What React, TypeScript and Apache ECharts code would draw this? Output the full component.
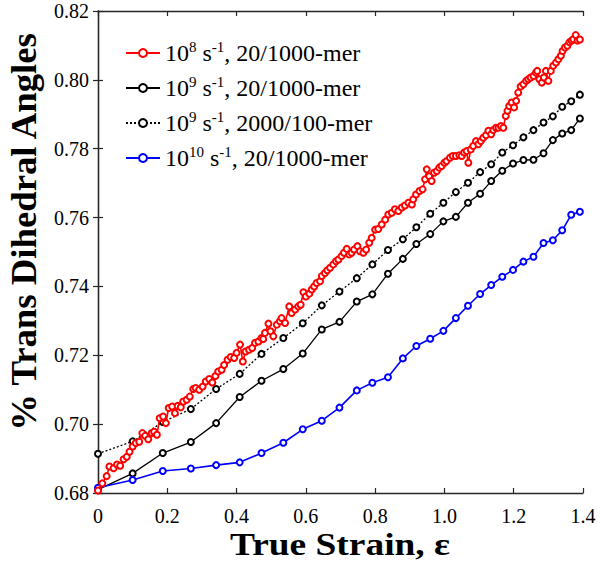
import React, { useEffect, useRef } from "react";
import * as echarts from "echarts";

const coarseStrain = [0, 0.1, 0.187, 0.268, 0.341, 0.409, 0.472, 0.535, 0.591, 0.646, 0.697, 0.747, 0.792, 0.837, 0.88, 0.919, 0.959, 0.997, 1.033, 1.068, 1.103, 1.135, 1.167, 1.198, 1.228, 1.257, 1.286, 1.313, 1.34, 1.366, 1.391];

// 10^9 s^-1, 20/1000-mer (solid black)
const rate9Chain20 = [0.681, 0.6857, 0.6916, 0.6948, 0.7003, 0.7079, 0.7126, 0.716, 0.7205, 0.7275, 0.7297, 0.7356, 0.7377, 0.7437, 0.748, 0.7523, 0.7552, 0.7589, 0.7602, 0.7643, 0.7669, 0.7706, 0.7736, 0.7757, 0.7767, 0.7768, 0.7787, 0.7825, 0.7844, 0.7854, 0.7888];

// 10^9 s^-1, 2000/100-mer (dotted black)
const rate9Chain2000 = [0.6914, 0.695, 0.7006, 0.7044, 0.7102, 0.7146, 0.7204, 0.725, 0.7293, 0.7345, 0.7385, 0.7424, 0.7464, 0.7506, 0.7537, 0.7572, 0.7611, 0.7643, 0.7674, 0.7701, 0.7732, 0.7755, 0.7789, 0.781, 0.7833, 0.7854, 0.7876, 0.7894, 0.7922, 0.7938, 0.7957];

// 10^10 s^-1, 20/1000-mer (blue)
const rate10Chain20 = [0.6815, 0.6838, 0.6864, 0.6871, 0.6881, 0.6889, 0.6916, 0.6946, 0.6985, 0.701, 0.7048, 0.7098, 0.712, 0.7136, 0.7191, 0.7227, 0.7248, 0.7271, 0.7308, 0.7344, 0.7378, 0.7404, 0.7428, 0.7448, 0.7472, 0.7486, 0.7526, 0.7534, 0.7563, 0.7608, 0.7617];

// 10^8 s^-1, 20/1000-mer (red) [strain, fraction]
const rate8Points = [
  [0, 0.6807], [0.0125, 0.6828], [0.025, 0.6849], [0.033, 0.6877], [0.045, 0.6872], [0.055, 0.6883], [0.064, 0.6879], [0.074, 0.6898], [0.083, 0.6905], [0.091, 0.692],
  [0.1, 0.6935], [0.109, 0.6945], [0.119, 0.6949], [0.128, 0.6974], [0.136, 0.6966], [0.145, 0.6956], [0.155, 0.6974], [0.162, 0.6978], [0.17, 0.6969], [0.178, 0.7017],
  [0.188, 0.7022], [0.196, 0.7003], [0.204, 0.7047], [0.214, 0.7051], [0.222, 0.7032], [0.23, 0.7053], [0.239, 0.7049], [0.246, 0.7066], [0.256, 0.7071], [0.265, 0.708],
  [0.275, 0.7102], [0.282, 0.7105], [0.292, 0.71], [0.302, 0.7109], [0.311, 0.7124], [0.321, 0.7131], [0.33, 0.7121], [0.339, 0.714], [0.347, 0.7153], [0.357, 0.7158],
  [0.364, 0.7172], [0.374, 0.7187], [0.383, 0.7195], [0.393, 0.7192], [0.4, 0.7207], [0.41, 0.7231], [0.418, 0.7182], [0.426, 0.7211], [0.436, 0.7216], [0.445, 0.7221],
  [0.453, 0.7236], [0.463, 0.724], [0.472, 0.725], [0.477, 0.7247], [0.482, 0.7265], [0.492, 0.7292], [0.498, 0.727], [0.506, 0.7255], [0.516, 0.7289], [0.525, 0.7299],
  [0.53, 0.7308], [0.54, 0.7294], [0.552, 0.7342], [0.559, 0.7323], [0.569, 0.7333], [0.578, 0.7342], [0.585, 0.7347], [0.593, 0.7383], [0.6, 0.7371], [0.61, 0.7379],
  [0.617, 0.7391], [0.624, 0.74], [0.631, 0.741], [0.641, 0.7415], [0.646, 0.743], [0.655, 0.7439], [0.662, 0.7447], [0.67, 0.7454], [0.679, 0.7464], [0.687, 0.7473],
  [0.694, 0.7478], [0.703, 0.7488], [0.71, 0.7498], [0.718, 0.7509], [0.725, 0.7493], [0.732, 0.7498], [0.739, 0.7507], [0.749, 0.7517], [0.756, 0.7502], [0.766, 0.7498],
  [0.774, 0.7507], [0.783, 0.7527], [0.79, 0.7541], [0.8, 0.7565], [0.809, 0.7567], [0.819, 0.758], [0.829, 0.7594], [0.838, 0.7609], [0.848, 0.7614], [0.857, 0.7624],
  [0.867, 0.7619], [0.877, 0.7629], [0.886, 0.7635], [0.896, 0.7643], [0.906, 0.7638], [0.91, 0.7653], [0.918, 0.7667], [0.928, 0.7677], [0.937, 0.7682], [0.944, 0.7711],
  [0.949, 0.774], [0.956, 0.772], [0.963, 0.7706], [0.97, 0.773], [0.978, 0.7735], [0.985, 0.7745], [0.992, 0.775], [1.0, 0.7759], [1.006, 0.7764], [1.016, 0.7774],
  [1.024, 0.7779], [1.033, 0.7779], [1.043, 0.7781], [1.05, 0.7779], [1.057, 0.7789], [1.064, 0.7793], [1.069, 0.7759], [1.076, 0.7798], [1.083, 0.7808], [1.091, 0.7822],
  [1.098, 0.7813], [1.105, 0.7822], [1.112, 0.7832], [1.12, 0.7839], [1.127, 0.7852], [1.135, 0.7842], [1.141, 0.7854], [1.149, 0.7861], [1.156, 0.7861], [1.163, 0.7866],
  [1.17, 0.7861], [1.177, 0.7895], [1.182, 0.791], [1.187, 0.7924], [1.194, 0.7934], [1.201, 0.792], [1.207, 0.7939], [1.213, 0.7963], [1.22, 0.7981], [1.228, 0.7987],
  [1.236, 0.7997], [1.242, 0.8002], [1.249, 0.8007], [1.257, 0.8011], [1.264, 0.8021], [1.268, 0.8026], [1.274, 0.8002], [1.281, 0.7992], [1.287, 0.8007], [1.293, 0.8026],
  [1.3, 0.7997], [1.307, 0.8026], [1.314, 0.8041], [1.322, 0.805], [1.329, 0.806], [1.336, 0.807], [1.341, 0.8084], [1.348, 0.8094], [1.355, 0.8099], [1.361, 0.8109],
  [1.367, 0.8114], [1.372, 0.8118], [1.379, 0.813], [1.384, 0.8114], [1.391, 0.8117],
];

const seriesNames = ["r8c20", "r9c20", "r9c2000", "r10c20"];
const legendLabels = [
  "10{sup|8} s{sup|-1}, 20/1000-mer",
  "10{sup|9} s{sup|-1}, 20/1000-mer",
  "10{sup|9} s{sup|-1}, 2000/100-mer",
  "10{sup|10} s{sup|-1}, 20/1000-mer",
];

const xTitle = "True Strain, ε";
const yTitle = "% Trans Dihedral Angles";

const SERIF = "'Liberation Serif', 'Times New Roman', serif";

export default function App() {
  const ref = useRef<HTMLDivElement>(null);

  useEffect(() => {
    document.body.style.margin = "0";
    const chart = echarts.init(ref.current!, null, { renderer: "svg" });

    const pair = (ys: number[]) => coarseStrain.map((x, i) => [x, ys[i]]);

    const axisLine = { show: true, lineStyle: { color: "#262626", width: 1.3 } };
    const tickIn = { show: true, inside: true, length: 5, lineStyle: { color: "#262626", width: 1.2 } };

    const option: any = {
      animation: false,
      backgroundColor: "#fff",
      grid: { left: 98, right: 17, top: 11, bottom: 70, containLabel: false },
      legend: {
        orient: "vertical",
        left: 120,
        top: 34,
        itemWidth: 34,
        itemHeight: 10,
        itemGap: 7,
        data: seriesNames,
        formatter: (name: string) => legendLabels[seriesNames.indexOf(name)],
        textStyle: {
          fontFamily: SERIF,
          fontSize: 24,
          color: "#000",
          lineHeight: 28,
          rich: {
            sup: { fontFamily: SERIF, fontSize: 15, color: "#000", verticalAlign: "top", lineHeight: 16 },
          },
        },
      },
      xAxis: [
        {
          type: "value",
          min: 0,
          max: 1.4,
          interval: 0.2,
          position: "bottom",
          axisLine,
          axisTick: tickIn,
          splitLine: { show: false },
          axisLabel: {
            margin: 13,
            fontFamily: SERIF,
            fontSize: 20,
            color: "#000",
            formatter: (v: number) => (v === 0 ? "0" : v.toFixed(1)),
          },
        },
        {
          type: "value",
          min: 0,
          max: 1.4,
          interval: 0.2,
          position: "top",
          axisLine,
          axisTick: tickIn,
          splitLine: { show: false },
          axisLabel: { show: false },
        },
      ],
      yAxis: [
        {
          type: "value",
          min: 0.68,
          max: 0.82,
          interval: 0.02,
          position: "left",
          axisLine,
          axisTick: tickIn,
          splitLine: { show: false },
          axisLabel: {
            margin: 9,
            fontFamily: SERIF,
            fontSize: 20,
            color: "#000",
            formatter: (v: number) => v.toFixed(2),
          },
        },
        {
          type: "value",
          min: 0.68,
          max: 0.82,
          interval: 0.02,
          position: "right",
          axisLine,
          axisTick: tickIn,
          splitLine: { show: false },
          axisLabel: { show: false },
        },
      ],
      graphic: [
        {
          type: "text",
          x: 24,
          y: 232,
          rotation: Math.PI / 2,
          scaleX: 1.05,
          style: {
            text: yTitle,
            font: `bold 35px ${SERIF}`,
            fill: "#000",
            textAlign: "center",
            textVerticalAlign: "middle",
          },
        },
        {
          type: "text",
          x: 340,
          y: 544,
          scaleX: 1.17,
          style: {
            text: xTitle,
            font: `bold 32px ${SERIF}`,
            fill: "#000",
            textAlign: "center",
            textVerticalAlign: "middle",
          },
        },
      ],
      series: [
        {
          name: seriesNames[0],
          type: "line",
          data: rate8Points,
          color: "#ff0000",
          symbol: "emptyCircle",
          symbolSize: 6,
          showAllSymbol: true,
          lineStyle: { color: "#ff0000", width: 1.6 },
          itemStyle: { color: "#ff0000", borderColor: "#ff0000", borderWidth: 1.2 },
          z: 4,
        },
        {
          name: seriesNames[1],
          type: "line",
          data: pair(rate9Chain20),
          color: "#000000",
          symbol: "emptyCircle",
          symbolSize: 6,
          showAllSymbol: true,
          lineStyle: { color: "#000000", width: 1.3 },
          itemStyle: { color: "#000000", borderColor: "#000000", borderWidth: 1.2 },
          z: 3,
        },
        {
          name: seriesNames[2],
          type: "line",
          data: pair(rate9Chain2000),
          color: "#000000",
          symbol: "emptyCircle",
          symbolSize: 6,
          showAllSymbol: true,
          lineStyle: { color: "#000000", width: 1.3, type: [2, 2] },
          itemStyle: { color: "#000000", borderColor: "#333333", borderWidth: 1.2 },
          z: 3,
        },
        {
          name: seriesNames[3],
          type: "line",
          data: pair(rate10Chain20),
          color: "#0000ff",
          symbol: "emptyCircle",
          symbolSize: 6,
          showAllSymbol: true,
          lineStyle: { color: "#0000ff", width: 1.6 },
          itemStyle: { color: "#0000ff", borderColor: "#0000ff", borderWidth: 1.2 },
          z: 3,
        },
      ],
    };

    chart.setOption(option);
    return () => chart.dispose();
  }, []);

  return <div ref={ref} style={{ width: 600, height: 563 }} />;
}
